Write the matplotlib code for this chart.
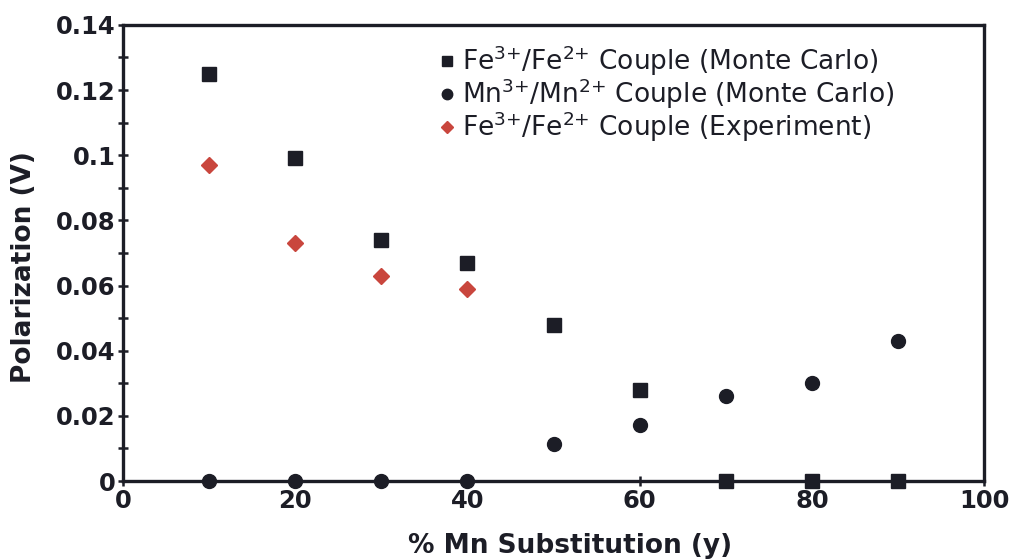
import matplotlib
matplotlib.use("Agg")
import matplotlib.pyplot as plt
from matplotlib.ticker import MultipleLocator

x = [10, 20, 30, 40, 50, 60, 70, 80, 90]
fe_mc = [0.125, 0.099, 0.074, 0.067, 0.048, 0.028, 0.0, 0.0, 0.0]
mn_mc = [0.0, 0.0, 0.0, 0.0, 0.0114, 0.0172, 0.026, 0.030, 0.043]
x_exp = [10, 20, 30, 40]
fe_exp = [0.097, 0.073, 0.063, 0.059]

y_ticks = [0, 0.02, 0.04, 0.06, 0.08, 0.1, 0.12, 0.14]
y_labels = ['0', '0.02', '0.04', '0.06', '0.08', '0.1', '0.12', '0.14']
x_ticks = [0, 20, 40, 60, 80, 100]

fig = plt.figure(figsize=(10.13, 5.59), dpi=100)
ax = fig.add_axes([0.1214, 0.1395, 0.85, 0.816])

ax.plot(x, fe_mc, 's', color='#1c1d26', ms=9.5, ls='none', clip_on=False, zorder=3,
        label=r'Fe$^{3{+}}$/Fe$^{2{+}}$ Couple (Monte Carlo)')
ax.plot(x, mn_mc, 'o', color='#1c1d26', ms=10, ls='none', clip_on=False, zorder=3,
        label=r'Mn$^{3{+}}$/Mn$^{2{+}}$ Couple (Monte Carlo)')
ax.plot(x_exp, fe_exp, 'D', color='#c9463d', ms=8, ls='none', clip_on=False, zorder=3,
        label=r'Fe$^{3{+}}$/Fe$^{2{+}}$ Couple (Experiment)')

ax.set_xlim(0, 100)
ax.set_ylim(0, 0.14)
ax.set_xticks(x_ticks)
ax.set_yticks(y_ticks)
ax.set_yticklabels(y_labels)
ax.yaxis.set_minor_locator(MultipleLocator(0.01))

for s in ax.spines.values():
    s.set_linewidth(2.4)
    s.set_color('#1c1d26')

ax.tick_params(axis='both', which='major', direction='inout', length=7, width=1.8,
               labelsize=17.5, colors='#1c1d26', pad=2)
ax.tick_params(axis='y', which='minor', direction='inout', length=7, width=1.8,
               colors='#1c1d26')
for lab in ax.get_xticklabels() + ax.get_yticklabels():
    lab.set_fontweight('bold')

ax.set_xlabel('% Mn Substitution (y)', fontsize=19, fontweight='bold', color='#1c1d26')
ax.set_ylabel('Polarization (V)', fontsize=19, fontweight='bold', color='#1c1d26')
ax.xaxis.set_label_coords(0.519, -0.115)
ax.yaxis.set_label_coords(-0.10, 0.47)

leg = ax.legend(loc='upper left', bbox_to_anchor=(0.34, 1.0), frameon=False,
                fontsize=19, handletextpad=0.05, handlelength=1.0, labelspacing=-0.05,
                borderaxespad=0.3, markerscale=0.75)
for t in leg.get_texts():
    t.set_color('#1c1d26')

fig.savefig('out.png', dpi=100)
